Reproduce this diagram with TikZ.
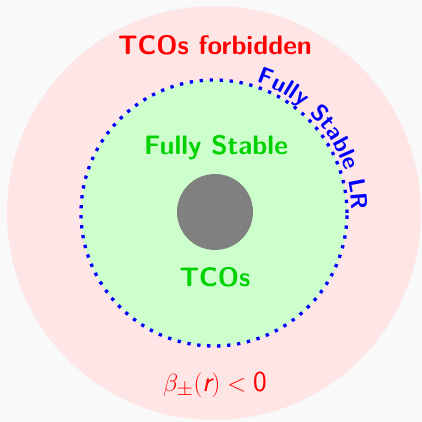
\documentclass[tikz,border=0pt]{standalone}
\usepackage{amsmath, amssymb}
\usepackage{tikz}
\usetikzlibrary{decorations.text}

\definecolor{bgGray}{RGB}{249,249,249}
\definecolor{zonePink}{RGB}{255,230,230}
\definecolor{zoneGreen}{RGB}{204,255,204}
\definecolor{labGreen}{RGB}{0,210,0}

\begin{document}
\begin{tikzpicture}[x=1pt, y=1pt,
    zonelabel/.style={font=\sffamily\bfseries\fontsize{26.7}{32}\selectfont}]
    \fill[bgGray] (-214,-209) rectangle (208,213);
    \useasboundingbox (-214,-209) rectangle (208,213);
    \fill[zonePink] (0,0) circle (207);
    \fill[zoneGreen] (0,0) circle (133);
    \draw[blue, line width=3.3pt, dash pattern=on 3.3pt off 6.7pt] (0,0) circle (133);
    \fill[gray] (1,1) circle (38);
    \path[decorate, decoration={text along path, text align=left,
        text color=blue, raise=4pt,
        text={|\sffamily\bfseries\fontsize{23.5}{28}\selectfont|Fully Stable LR}}]
        (72:134) arc (72:-20:134);
    \node[zonelabel, red] (forbidden) at (1,168) {TCOs forbidden};
    \node[zonelabel, labGreen] (stable) at (2,65) {Fully Stable};
    \node[zonelabel, labGreen] (tcos) at (1,-64) {TCOs};
    \node[red, font=\fontsize{29}{34}\selectfont] (beta) at (1,-172)
        {$\beta_{\pm}(\textsf{\itshape r}) < \textsf{0}$};
\end{tikzpicture}
\end{document}
